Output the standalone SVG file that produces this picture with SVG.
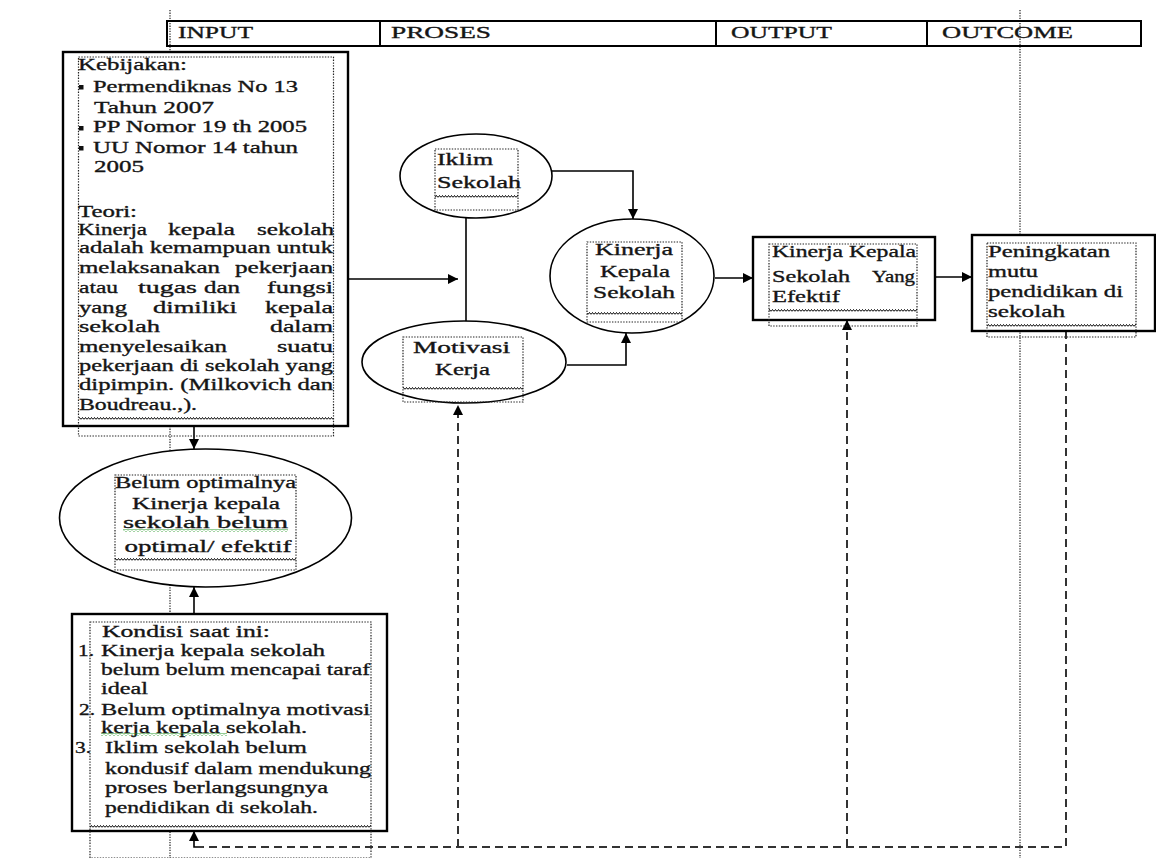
<svg xmlns="http://www.w3.org/2000/svg" width="1156" height="858" viewBox="0 0 1156 858">
<style>
text{font-family:"Liberation Serif","Times New Roman",serif;font-size:17px;fill:#151515;stroke:#151515;stroke-width:0.35;}
.hdr{font-size:17px;}
.box{fill:#fff;stroke:#000;stroke-width:2.4;}
.ell{fill:#fff;stroke:#000;stroke-width:1.6;}
.tb{fill:none;stroke:#222;stroke-width:1.2;stroke-dasharray:1.4 1.4;}
.guide{fill:none;stroke:#333;stroke-width:1.3;stroke-dasharray:1.3 1.3;}
.ln{fill:none;stroke:#000;stroke-width:1.6;}
.dash{fill:none;stroke:#333;stroke-width:2;stroke-dasharray:8 5;}
.zz{fill:url(#zz);}
.gz{fill:url(#gz);}
</style>
<defs>
<marker id="ah" viewBox="0 0 10 10" refX="10" refY="5" markerWidth="10" markerHeight="10" markerUnits="userSpaceOnUse" orient="auto"><path d="M0,0 L10,5 L0,10 z" fill="#000"/></marker>
<pattern id="zz" width="3" height="3" patternUnits="userSpaceOnUse"><path d="M0 2.5 L1.5 0.5 L3 2.5" fill="none" stroke="#000" stroke-width="1"/></pattern>
<pattern id="gz" width="4" height="3" patternUnits="userSpaceOnUse"><path d="M0 2.5 L2 0.5 L4 2.5" fill="none" stroke="#2a9a2a" stroke-width="1"/></pattern>
</defs>

<g id="guides">
<line class="guide" x1="170" y1="10" x2="170" y2="858"/>
<line class="guide" x1="1020" y1="10" x2="1020" y2="858"/>
</g>

<g id="header">
<rect x="167" y="21" width="974" height="25" fill="none" stroke="#000" stroke-width="2"/>
<line x1="380" y1="21" x2="380" y2="46" stroke="#000" stroke-width="2"/>
<line x1="716" y1="21" x2="716" y2="46" stroke="#000" stroke-width="2"/>
<line x1="927" y1="21" x2="927" y2="46" stroke="#000" stroke-width="2"/>
<text class="hdr" x="178" y="38" textLength="75" lengthAdjust="spacingAndGlyphs">INPUT</text>
<text class="hdr" x="391" y="38" textLength="100" lengthAdjust="spacingAndGlyphs">PROSES</text>
<text class="hdr" x="731" y="38" textLength="101" lengthAdjust="spacingAndGlyphs">OUTPUT</text>
<text class="hdr" x="942" y="38" textLength="131" lengthAdjust="spacingAndGlyphs">OUTCOME</text>
</g>

<g id="connectors">
<line class="ln" x1="194" y1="426" x2="194" y2="449" marker-end="url(#ah)"/>
<line class="ln" x1="194" y1="614" x2="194" y2="587" marker-end="url(#ah)"/>
<line class="ln" x1="348" y1="279" x2="458" y2="279" marker-end="url(#ah)"/>
<line class="ln" x1="466" y1="218" x2="466" y2="321"/>
<polyline class="ln" points="552,171 633,171 633,219" marker-end="url(#ah)"/>
<polyline class="ln" points="567,365 626,365 626,333" marker-end="url(#ah)"/>
<line class="ln" x1="715" y1="278" x2="753" y2="278" marker-end="url(#ah)"/>
<line class="ln" x1="935" y1="277" x2="972" y2="277" marker-end="url(#ah)"/>
<polyline class="dash" points="1066,331 1066,847 203,847"/>
<polyline class="ln" points="203,847 194,847 194,831" marker-end="url(#ah)"/>
<line class="dash" x1="458" y1="847" x2="458" y2="405" marker-end="url(#ah)"/>
<line class="dash" x1="847" y1="847" x2="847" y2="320" marker-end="url(#ah)"/>
</g>

<g id="input-box">
<rect class="box" x="63" y="52" width="285" height="374"/>
<rect class="tb" x="78.5" y="57" width="255" height="379"/>
<rect x="79" y="417" width="254" height="3" class="zz"/>
<text x="78" y="70" textLength="109" lengthAdjust="spacingAndGlyphs">Kebijakan:</text>
<rect x="79" y="85" width="4.5" height="4.5" fill="#111"/>
<text x="93" y="92" textLength="205" lengthAdjust="spacingAndGlyphs">Permendiknas No 13</text>
<text x="94" y="113" textLength="120" lengthAdjust="spacingAndGlyphs">Tahun 2007</text>
<rect x="79" y="126" width="4.5" height="4.5" fill="#111"/>
<text x="93" y="132" textLength="214" lengthAdjust="spacingAndGlyphs">PP Nomor 19 th 2005</text>
<rect x="79" y="146" width="4.5" height="4.5" fill="#111"/>
<text x="93" y="153" textLength="205" lengthAdjust="spacingAndGlyphs">UU Nomor 14 tahun</text>
<text x="94" y="172" textLength="50" lengthAdjust="spacingAndGlyphs">2005</text>
<text x="78" y="217" textLength="59" lengthAdjust="spacingAndGlyphs">Teori:</text>
<text x="78" y="235" textLength="69" lengthAdjust="spacingAndGlyphs">Kinerja</text>
<text x="168" y="235" textLength="67" lengthAdjust="spacingAndGlyphs">kepala</text>
<text x="257" y="235" textLength="77" lengthAdjust="spacingAndGlyphs">sekolah</text>
<text x="79" y="253" textLength="254" lengthAdjust="spacingAndGlyphs">adalah kemampuan untuk</text>
<text x="79" y="273" textLength="141" lengthAdjust="spacingAndGlyphs">melaksanakan</text>
<text x="235" y="273" textLength="98" lengthAdjust="spacingAndGlyphs">pekerjaan</text>
<text x="79" y="293" textLength="39" lengthAdjust="spacingAndGlyphs">atau</text>
<text x="138" y="293" textLength="59" lengthAdjust="spacingAndGlyphs">tugas</text>
<text x="204" y="293" textLength="36" lengthAdjust="spacingAndGlyphs">dan</text>
<text x="267" y="293" textLength="66" lengthAdjust="spacingAndGlyphs">fungsi</text>
<text x="79" y="313" textLength="48" lengthAdjust="spacingAndGlyphs">yang</text>
<text x="153" y="313" textLength="84" lengthAdjust="spacingAndGlyphs">dimiliki</text>
<text x="265" y="313" textLength="68" lengthAdjust="spacingAndGlyphs">kepala</text>
<text x="79" y="332" textLength="81" lengthAdjust="spacingAndGlyphs">sekolah</text>
<text x="270" y="332" textLength="63" lengthAdjust="spacingAndGlyphs">dalam</text>
<text x="79" y="352" textLength="148" lengthAdjust="spacingAndGlyphs">menyelesaikan</text>
<text x="277" y="352" textLength="56" lengthAdjust="spacingAndGlyphs">suatu</text>
<text x="79" y="371" textLength="254" lengthAdjust="spacingAndGlyphs">pekerjaan di sekolah yang</text>
<text x="79" y="390" textLength="254" lengthAdjust="spacingAndGlyphs">dipimpin. (Milkovich dan</text>
<text x="79" y="410" textLength="118" lengthAdjust="spacingAndGlyphs">Boudreau.,).</text>
</g>

<g id="problem-ellipse">
<ellipse class="ell" cx="205.5" cy="518" rx="146" ry="69"/>
<rect class="tb" x="115" y="475" width="181" height="95"/>
<rect x="115" y="558" width="181" height="3" class="zz"/>
<text x="205.5" y="488" text-anchor="middle" textLength="181" lengthAdjust="spacingAndGlyphs">Belum optimalnya</text>
<text x="206" y="509" text-anchor="middle" textLength="148" lengthAdjust="spacingAndGlyphs">Kinerja kepala</text>
<text x="205.5" y="528" text-anchor="middle" textLength="165" lengthAdjust="spacingAndGlyphs">sekolah  belum</text>
<rect x="123" y="529" width="165" height="3" class="gz"/>
<text x="208" y="552" text-anchor="middle" textLength="167" lengthAdjust="spacingAndGlyphs">optimal/  efektif</text>
</g>

<g id="kondisi-box">
<rect class="box" x="72" y="614" width="315" height="217"/>
<rect class="tb" x="90" y="622" width="281" height="236"/>
<rect x="90" y="825" width="281" height="3" class="zz"/>
<text x="102" y="637" textLength="168" lengthAdjust="spacingAndGlyphs">Kondisi saat ini:</text>
<text x="78" y="656" textLength="16" lengthAdjust="spacingAndGlyphs">1.</text>
<text x="101" y="656" textLength="224" lengthAdjust="spacingAndGlyphs">Kinerja kepala sekolah</text>
<text x="101" y="675" textLength="269" lengthAdjust="spacingAndGlyphs">belum belum mencapai taraf</text>
<text x="101" y="694" textLength="47" lengthAdjust="spacingAndGlyphs">ideal</text>
<text x="79" y="715" textLength="16" lengthAdjust="spacingAndGlyphs">2.</text>
<text x="101" y="715" textLength="269" lengthAdjust="spacingAndGlyphs">Belum optimalnya motivasi</text>
<text x="101" y="733" textLength="206" lengthAdjust="spacingAndGlyphs">kerja  kepala sekolah.</text>
<rect x="101" y="733" width="126" height="3" class="gz"/>
<text x="75" y="753" textLength="16" lengthAdjust="spacingAndGlyphs">3.</text>
<text x="105" y="753" textLength="202" lengthAdjust="spacingAndGlyphs">Iklim sekolah belum</text>
<text x="105" y="774" textLength="266" lengthAdjust="spacingAndGlyphs">kondusif dalam mendukung</text>
<text x="105" y="793" textLength="223" lengthAdjust="spacingAndGlyphs">proses berlangsungnya</text>
<text x="105" y="813" textLength="213" lengthAdjust="spacingAndGlyphs">pendidikan di sekolah.</text>
</g>

<g id="iklim-sekolah">
<ellipse class="ell" cx="476" cy="176" rx="76" ry="42"/>
<rect class="tb" x="435" y="149" width="83" height="61"/>
<rect x="435" y="195" width="83" height="3" class="zz"/>
<text x="437" y="165" textLength="56" lengthAdjust="spacingAndGlyphs">Iklim</text>
<text x="437" y="188" textLength="84" lengthAdjust="spacingAndGlyphs">Sekolah</text>
</g>

<g id="motivasi-kerja">
<ellipse class="ell" cx="464" cy="362" rx="102" ry="41"/>
<rect class="tb" x="403" y="337" width="120" height="65"/>
<rect x="403" y="387" width="120" height="3" class="zz"/>
<text x="413" y="353" textLength="97" lengthAdjust="spacingAndGlyphs">Motivasi</text>
<text x="435" y="375" textLength="55" lengthAdjust="spacingAndGlyphs">Kerja</text>
</g>

<g id="kinerja-kepala-sekolah">
<ellipse class="ell" cx="632" cy="276" rx="82" ry="57"/>
<rect class="tb" x="587" y="242" width="95" height="80"/>
<rect x="587" y="312" width="95" height="3" class="zz"/>
<text x="595" y="255" textLength="78" lengthAdjust="spacingAndGlyphs">Kinerja</text>
<text x="600" y="277" textLength="70" lengthAdjust="spacingAndGlyphs">Kepala</text>
<text x="593" y="298" textLength="82" lengthAdjust="spacingAndGlyphs">Sekolah</text>
</g>

<g id="kinerja-efektif">
<rect class="box" x="753" y="237" width="182" height="83"/>
<rect class="tb" x="769" y="244" width="148" height="82"/>
<rect x="769" y="309" width="148" height="3" class="zz"/>
<text x="772" y="257" textLength="144" lengthAdjust="spacingAndGlyphs">Kinerja Kepala</text>
<text x="772" y="282" textLength="78" lengthAdjust="spacingAndGlyphs">Sekolah</text>
<text x="872" y="282" textLength="43" lengthAdjust="spacingAndGlyphs">Yang</text>
<text x="772" y="302" textLength="68" lengthAdjust="spacingAndGlyphs">Efektif</text>
</g>

<g id="peningkatan-mutu">
<rect class="box" x="972" y="235" width="183" height="96"/>
<rect class="tb" x="987" y="243" width="149" height="94"/>
<rect x="987" y="324" width="149" height="3" class="zz"/>
<text x="988" y="257" textLength="122" lengthAdjust="spacingAndGlyphs">Peningkatan</text>
<text x="988" y="277" textLength="50" lengthAdjust="spacingAndGlyphs">mutu</text>
<text x="988" y="297" textLength="135" lengthAdjust="spacingAndGlyphs">pendidikan di</text>
<text x="988" y="317" textLength="77" lengthAdjust="spacingAndGlyphs">sekolah</text>
</g>
</svg>
